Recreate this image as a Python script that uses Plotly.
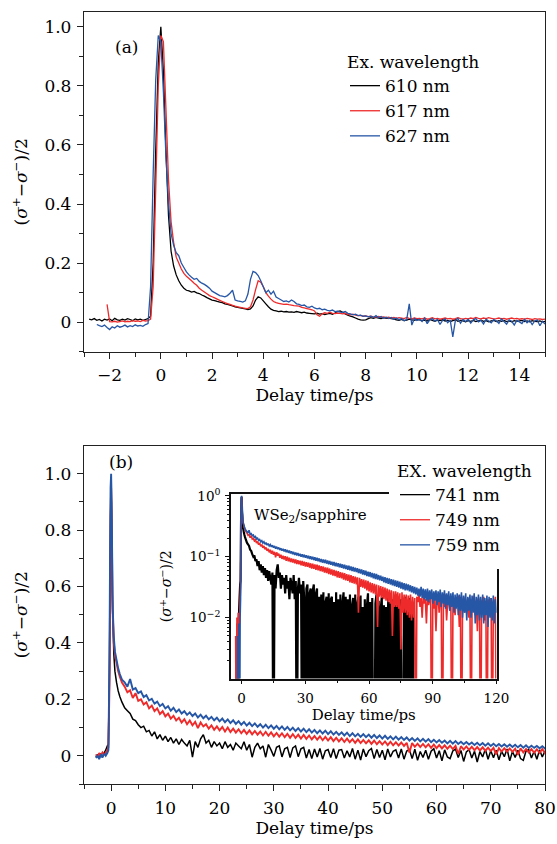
import numpy as np
import plotly.graph_objects as go

# ---------------- Panel (a) data ----------------
a_legend_title = "Ex. wavelength"
a_names = ["610 nm", "617 nm", "627 nm"]
a_t0 = {"610 nm": -2.8, "617 nm": -2.1, "627 nm": -2.5}   # first delay of each scan (ps), 0.1 ps steps to 15 ps
a_step = 0.1

a_610 = [.01,.008,.012,.006,.009,.004,.01,.007,.011,.005,.013,.008,.006,.01,.007,.012,.009,.005,.011,.008,.01,.006,.009,.012,
         .02,.2,.58,.88,1.0,.85,.58,.36,.24,.19,.16,.14,.125,.115,.108,
         .106,.102,.104,.099,.097,.092,.088,.083,.079,.075,
         .073,.07,.068,.066,.062,.06,.058,.055,.052,.05,
         .048,.047,.045,.043,.045,.055,.075,.086,.082,.072,
         .062,.052,.044,.04,.038,.036,.037,.035,.036,.034,
         .035,.033,.036,.034,.032,.034,.031,.03,.029,.028,
         .03,.027,.029,.026,.028,.03,.027,.031,.036,.038,
         .033,.028,.024,.02,.018,.014,.01,.008,.007,.008,
         .012,.015,.013,.016,.014,.012,.015,.013,.014,.012,
         .01,.008,.006,.009,.005,.007,.01,.008,.006,.009,
         .008,.005,.007,.004,.009,.006,.003,.007,.005,.008,
         .004,.006,.002,.005,.008,.003,.006,.004,.001,.005,
         .003,.006,.002,.004,.007,.003,.005,.001,.004,.006,
         .002,.005,.003,.006,.002,.004,.001,.005,.003,.004,
         .006,.002,.004,.001,.005,.003,.002,.004,.001,.003]

a_617 = [.06,
         .002,.001,.003,0,.002,.004,.001,.003,.002,.005,.003,.004,.002,.006,.004,.005,
         .01,.12,.45,.8,.97,.95,.72,.48,.34,.27,.22,.2,.18,.165,.155,
         .148,.14,.132,.125,.115,.108,.102,.096,.09,.086,
         .082,.078,.074,.07,.066,.063,.06,.057,.054,.052,
         .05,.048,.047,.046,.052,.075,.11,.14,.135,.12,
         .1,.088,.078,.07,.066,.064,.062,.06,.061,.059,
         .058,.056,.055,.054,.05,.048,.046,.044,.042,.038,
         .025,.02,.028,.032,.03,.034,.03,.029,.031,.03,
         .028,.03,.026,.025,.027,.024,.022,.023,.02,.021,
         .019,.02,.018,.017,.019,.016,.018,.015,.017,.014,
         .016,.013,.015,.014,.012,.016,.013,.011,.014,.012,
         .013,.011,.014,.01,.012,.015,.011,.013,.01,.012,
         .014,.011,.013,.01,.012,.015,.012,.01,.013,.011,
         .014,.012,.016,.013,.011,.014,.012,.015,.013,.011,
         .012,.014,.011,.013,.01,.012,.014,.011,.013,.01,
         .012,.01,.013,.011,.009,.012,.01,.011,.009,.01]

a_627 = [-.008,-.012,-.015,-.01,-.018,-.025,-.016,-.02,-.012,-.017,-.014,-.01,-.016,-.012,-.015,-.009,-.013,-.011,-.014,-.008,-.005,
         .12,.5,.82,.97,.95,.78,.56,.4,.3,.26,.235,.225,.2,.185,.17,
         .16,.152,.145,.148,.138,.132,.128,.122,.115,.105,
         .1,.095,.09,.088,.086,.09,.098,.108,.075,.072,
         .07,.068,.072,.095,.145,.172,.168,.158,.14,.12,
         .1,.108,.095,.105,.085,.08,.075,.07,.072,.068,
         .075,.07,.062,.06,.056,.058,.052,.05,.054,.048,
         .045,.047,.042,.044,.04,.038,.041,.036,.037,.034,
         .033,.036,.03,.028,.025,.027,.022,.024,.02,.021,
         .018,.02,.016,.022,.015,.019,.013,.017,.012,.016,
         .01,.014,.008,.012,.005,.009,.062,-.01,.012,.006,
         .01,.002,.014,-.005,.008,.012,.003,.009,-.008,.006,
         .011,-.002,.007,-.05,.005,.013,-.004,.009,.002,.01,
         -.003,.008,.012,.001,.006,-.006,.01,.004,-.002,.009,
         .005,-.004,.011,.002,-.007,.008,.003,-.01,.006,.001,
         -.005,.009,-.002,.006,-.008,.004,.007,-.012,.003,-.006]

# ---------------- Panel (b) + inset data ----------------
b_legend_title = "EX. wavelength"
b_names = ["741 nm", "749 nm", "759 nm"]
b_t_early = [-2.8,-2.5,-2.2,-1.9,-1.6,-1.3,-1.0,-0.7,-0.5,-0.3,-0.2,-0.1,0,0.1,0.2,0.3,0.5,0.7,1.0,1.3,1.6,2.0]
b_t_late_start, b_t_late_step, b_t_late_end = 2.5, 0.5, 120.0   # uniform 0.5 ps sampling after 2 ps

b_741 = [-.005,.005,-.01,.008,-.005,.01,.02,.035,.04,.3,.6,.85,.96,.8,.58,.5,.36,.3,.26,.23,.21,.19,
         .17,.16,.15,.13,.125,.11,.1,.105,.085,.09,
         .07,.085,.06,.075,.055,.07,.05,.065,.045,.06,
         .04,.058,.045,.035,.055,-.005,.05,.03,.06,.075,
         .045,.055,.03,.05,.035,.045,.025,.05,.03,.04,
         .02,.045,.035,.025,.05,.02,.04,-.005,.03,.045,
         .025,.035,-.005,.04,.02,-.002,.03,.035,-.004,.025,
         .03,-.006,.028,.035,-.003,.025,.03,-.008,.022,-.01,
         .024,-.004,.026,-.012,.018,.022,-.006,.025,-.01,.02,
         .022,-.008,.018,-.004,.026,-.012,.02,-.015,.024,-.003,
         .018,.026,-.01,.022,-.006,.02,-.014,.024,-.004,.016,
         .021,-.008,.024,-.012,.017,.022,-.01,.023,-.016,.015,
         -.006,.02,-.012,.016,.025,-.008,.018,-.018,.021,-.004,
         -.01,.017,.024,-.006,.019,-.02,.014,.022,-.008,.016,
         -.022,.015,-.004,.023,-.012,.018,-.007,.02,-.014,.016,
         -.003,.024,-.018,.015,-.006,.02,-.01,-.016,.017,.022,
         -.008,.016,-.012,.021,-.004,.017,-.009,.014]

b_749 = [.005,-.005,.01,0,.012,.005,.01,.02,.03,.25,.55,.85,.95,.85,.65,.5,.4,.36,.33,.3,.28,.26,
         .245,.225,.232,.205,.222,.195,.2,.182,.19,.168,
         .178,.158,.168,.148,.158,.14,.15,.132,.142,.125,
         .135,.118,.13,.112,.125,.108,.12,.098,.118,.104,
         .112,.096,.108,.092,.104,.09,.102,.086,.1,.084,
         .096,.082,.094,.08,.092,.078,.09,.076,.088,.075,
         .086,.072,.085,.071,.083,.069,.081,.068,.08,.066,
         .078,.064,.077,.063,.075,.061,.074,.06,.072,.058,
         .07,.057,.069,.055,.067,.054,.066,.052,.064,.051,
         .062,.049,.061,.048,.059,.046,.058,.045,.056,.044,
         .055,.042,.054,.041,.052,.04,.051,.038,.05,.037,
         .048,.036,.047,.035,.046,.012,.045,.032,.043,.031,
         .042,.03,.041,.028,.04,.027,.038,.026,.037,.025,
         .036,.024,.035,.007,.034,.022,.033,.021,.032,.02,
         .031,.019,.03,.018,.029,.017,.028,.005,.027,.015,
         .027,.015,.026,.014,.025,.003,.026,.012,.024,.012,
         .024,.011,.023,.01,.024,.009,.022,.01,.021,-.002,
         .022,.018,.024,.015,.021,.01,.023,.017,.02,.008,
         .022,.016,.019,.024,-.003,.02,.014,.022,.006,.019,
         .023,.012,.02,.017,-.004,.021,.015,.024,.009,.018,
         .02,.013,.022,-.002,.017,.021,.011,.019,.016,.023,
         .007,.02,-.005,.018,.022,.012,.019,.015,.021,.01,
         .018,-.003,.02,.016,.023,.011,.019,.006,.021,.017,
         -.002,.019,.014,.022,.009,.018,-.004,.02,.015,.021,
         .012,-.003,.019,.016,.022,-.002]

b_759 = [-.008,0,-.012,.005,-.006,.008,0,.01,.02,.35,.7,.95,1.0,.9,.7,.52,.42,.37,.34,.31,.29,.27,
         .26,.245,.272,.235,.24,.222,.228,.208,.215,.196,
         .202,.185,.192,.176,.184,.168,.176,.16,.17,.155,
         .164,.15,.158,.145,.154,.141,.15,.136,.146,.133,
         .142,.129,.138,.126,.135,.122,.132,.119,.129,.116,
         .126,.113,.123,.11,.12,.107,.117,.105,.115,.103,
         .112,.1,.11,.098,.108,.096,.106,.094,.104,.092,
         .102,.09,.1,.088,.098,.086,.096,.084,.094,.082,
         .092,.08,.09,.079,.089,.077,.087,.075,.085,.074,
         .083,.072,.082,.07,.08,.069,.078,.067,.077,.066,
         .075,.064,.074,.063,.072,.061,.071,.06,.069,.058,
         .068,.057,.066,.056,.065,.054,.063,.053,.062,.051,
         .06,.05,.059,.048,.057,.047,.056,.046,.054,.044,
         .053,.043,.052,.042,.05,.041,.049,.04,.047,.038,
         .046,.037,.045,.036,.044,.035,.043,.034,.042,.033,
         .041,.032,.04,.031,.039,.03,.038,.029,.037,.028,
         .036,.028,.035,.027,.034,.026,.033,.025,.032,.024,
         .031,.023,.03,.022,.032,.021,.03,.02,.029,.019,
         .03,.018,.028,.02,.029,.017,.027,.019,.028,.016,
         .027,.018,.029,.015,.026,.017,.028,.014,.025,.016,
         .027,.013,.025,.015,.026,.012,.024,.014,.025,.011,
         .024,.013,.026,.01,.023,.012,.025,.009,.022,.013,
         .024,.01,.023,.012,.025,.008,.022,.011,.024,.009,
         .022,.01,.024,.008,.021,.011,.023,.007,.022,.01,
         .021,.009,.023,.008,.02,.012]

inset_label = "WSe<sub>2</sub>/sapphire"
y_title = "(<i>σ</i><sup>+</sup>−<i>σ</i><sup>−</sup>)/2"
x_title = "Delay time/ps"

# ---------------- build ----------------
colors = ["#000000", "#EE2A2A", "#2656A6"]
FONT = "DejaVu Serif"
W, H = 557, 844

def px_x(p):
    return p / W

def px_y(p):
    return 1 - p / H

def grid(t0, n, step):
    return np.round(t0 + step * np.arange(n), 3)

b_t_late = np.round(np.arange(b_t_late_start, b_t_late_end + 1e-6, b_t_late_step), 3)
b_t = np.concatenate([np.array(b_t_early), b_t_late])

fig = go.Figure()

for name, vals, c in zip(a_names, [a_610, a_617, a_627], colors):
    t = grid(a_t0[name], len(vals), a_step)
    fig.add_trace(go.Scatter(x=t, y=vals, mode="lines", name=name,
                             line=dict(color=c, width=1.3, simplify=False), legend="legend",
                             xaxis="x", yaxis="y"))

for name, vals, c, w in zip(b_names, [b_741, b_749, b_759], colors, [1.5, 1.9, 1.9]):
    t = b_t[:len(vals)]
    fig.add_trace(go.Scatter(x=t, y=vals, mode="lines", name=name, showlegend=False,
                             line=dict(color=c, width=w, simplify=False),
                             xaxis="x2", yaxis="y2"))

for name, vals, c, w in zip(b_names, [b_741, b_749, b_759], colors, [2.2, 1.6, 1.6]):
    t = b_t[:len(vals)]
    v = np.array(vals, dtype=float)
    v = np.where(v > 0, v, 1e-5)   # non-positive values fall below the log axis
    fig.add_trace(go.Scatter(x=t, y=v, mode="lines", name=name, showlegend=False,
                             line=dict(color=c, width=w, simplify=False),
                             xaxis="x3", yaxis="y3"))

# legend entries for panel (b), drawn with a thin line sample
for name, c in zip(b_names, colors):
    fig.add_trace(go.Scatter(x=[None], y=[None], mode="lines", name=name,
                             line=dict(color=c, width=1.3), legend="legend2",
                             xaxis="x2", yaxis="y2"))

axcol = "#222222"
common = dict(showline=True, mirror=True, linecolor=axcol, linewidth=1.3,
              showgrid=False, zeroline=False, ticks="outside", tickcolor=axcol,
              tickwidth=1, ticklen=6, ticklabelstandoff=2, automargin=False,
              tickfont=dict(family=FONT, size=17, color="black"))

ylab_vals = [0, 0.2, 0.4, 0.6, 0.8, 1.0]
ylab_text = ["0", "0.2", "0.4", "0.6", "0.8", "1.0"]
ymin_vals = [-0.1, 0.1, 0.3, 0.5, 0.7, 0.9]

inset_ax = dict(showline=True, mirror=True, linecolor="#111111", linewidth=1.6,
                showgrid=False, zeroline=False, ticks="outside", tickcolor="#111111",
                ticklen=4, ticklabelstandoff=2, automargin=False,
                tickfont=dict(family=FONT, size=13.5, color="black"))

fig.update_layout(
    template="none",
    width=W, height=H, margin=dict(l=0, r=0, t=0, b=0, autoexpand=False),
    paper_bgcolor="white", plot_bgcolor="rgba(0,0,0,0)",
    font=dict(family=FONT, size=17, color="black"),
    xaxis=dict(common, domain=[px_x(84), px_x(545)], anchor="y", range=[-3, 15],
               tickmode="linear", tick0=0, dtick=2,
               minor=dict(ticks="outside", ticklen=4, tickcolor=axcol, dtick=1, tick0=0),
               title=dict(text=x_title, font=dict(size=17), standoff=2)),
    yaxis=dict(common, domain=[px_y(351.7), px_y(12)], anchor="x", range=[-0.1, 1.05],
               tickmode="array", tickvals=ylab_vals, ticktext=ylab_text,
               minor=dict(ticks="outside", ticklen=4, tickcolor=axcol, tickvals=ymin_vals),
               title=dict(text=y_title, font=dict(size=17), standoff=12)),
    xaxis2=dict(common, domain=[px_x(84), px_x(545)], anchor="y2", range=[-5, 80],
                tickmode="linear", tick0=0, dtick=10,
                minor=dict(ticks="outside", ticklen=4, tickcolor=axcol, dtick=5, tick0=0),
                title=dict(text=x_title, font=dict(size=17), standoff=2)),
    yaxis2=dict(common, domain=[px_y(784), px_y(445.5)], anchor="x2", range=[-0.1, 1.1],
                tickmode="array", tickvals=ylab_vals, ticktext=ylab_text,
                minor=dict(ticks="outside", ticklen=4, tickcolor=axcol, tickvals=ymin_vals),
                title=dict(text=y_title, font=dict(size=17), standoff=12)),
    xaxis3=dict(inset_ax, domain=[px_x(231), px_x(496.5)], anchor="y3", range=[-5, 120],
                tickmode="array", tickvals=[0, 30, 60, 90, 120],
                minor=dict(ticks="outside", ticklen=3, tickcolor="#111111",
                           tickvals=[15, 45, 75, 105]),
                title=dict(text=x_title, font=dict(size=15), standoff=2)),
    yaxis3=dict(inset_ax, type="log",
                domain=[px_y(678.5), px_y(494)], anchor="x3", range=[-3, 0.03],
                tickmode="array", tickvals=[1, 0.1, 0.01],
                ticktext=["10<sup>0</sup>", "10<sup>−1</sup>", "10<sup>−2</sup>"],
                minor=dict(ticks="outside", ticklen=2, tickcolor="#111111",
                           tickvals=[m * 10.0 ** e for e in (-3, -2, -1) for m in range(2, 10)]),
                title=dict(text=y_title, font=dict(size=14), standoff=14)),
    legend=dict(x=px_x(345), y=px_y(46), xanchor="left", yanchor="top",
                bgcolor="rgba(0,0,0,0)", borderwidth=0,
                font=dict(family=FONT, size=17), itemwidth=30,
                title=dict(text=a_legend_title, font=dict(family=FONT, size=17))),
    legend2=dict(x=px_x(389), y=px_y(449), xanchor="left", yanchor="top",
                 bgcolor="white", bordercolor="white", borderwidth=6,
                 font=dict(family=FONT, size=17), itemwidth=30,
                 title=dict(text=b_legend_title, font=dict(family=FONT, size=17))),
    annotations=[
        dict(text="(a)", x=px_x(113), y=px_y(35), xref="paper", yref="paper",
             showarrow=False, font=dict(family=FONT, size=17)),
        dict(text="(b)", x=px_x(107), y=px_y(462), xref="paper", yref="paper",
             showarrow=False, font=dict(family=FONT, size=17)),
        dict(text=inset_label, x=px_x(310), y=px_y(515), xref="paper", yref="paper",
             showarrow=False, font=dict(family=FONT, size=15)),
    ],
)

fig.write_html("out.html", config={"displayModeBar": False},
               post_script="document.body.style.margin='0';")
